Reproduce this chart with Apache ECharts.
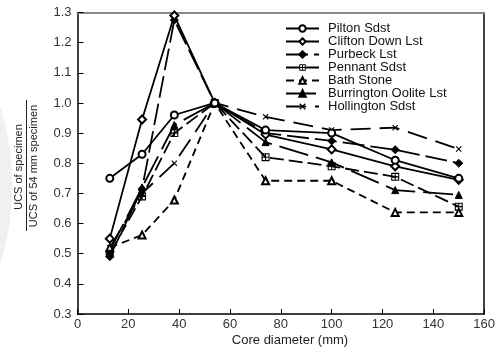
<!DOCTYPE html>
<html>
<head>
<meta charset="utf-8">
<script src="https://cdn.jsdelivr.net/npm/echarts@6/dist/echarts.min.js"></script>
<style>
html,body{margin:0;padding:0;background:#fff;}
#chart{width:498px;height:349px;}
</style>
</head>
<body>
<div id="chart"></div>
<script>
// Core diameters (mm)
var diameters = [12.7, 25.4, 38.1, 54, 74, 100, 125, 150];

// Series values: UCS of specimen / UCS of 54 mm specimen
var piltonSdst       = [0.75, 0.83, 0.96, 1.0, 0.91, 0.90, 0.81, 0.75];
var cliftonDownLst   = [0.55, 0.945, 1.29, 1.0, 0.895, 0.846, 0.79, 0.745];
var purbeckLst       = [0.49, 0.715, 1.275, 1.0, 0.90, 0.874, 0.845, 0.80];
var pennantSdst      = [0.50, 0.69, 0.90, 1.0, 0.82, 0.79, 0.755, 0.656];
var bathStone        = [0.52, 0.562, 0.678, 1.0, 0.742, 0.742, 0.637, 0.637];
var burringtonOolite = [0.51, 0.72, 0.927, 1.0, 0.87, 0.803, 0.711, 0.695];
var hollingtonSdst   = [0.52, 0.70, 0.80, 1.0, 0.954, 0.91, 0.918, 0.847];

var seriesNames = ['Pilton Sdst', 'Clifton Down Lst', 'Purbeck Lst', 'Pennant Sdst',
                   'Bath Stone', 'Burrington Oolite Lst', 'Hollington Sdst'];

var xTicks = [0, 20, 40, 60, 80, 100, 120, 140, 160];
var yTicks = [0.3, 0.4, 0.5, 0.6, 0.7, 0.8, 0.9, 1.0, 1.1, 1.2, 1.3];

var symPennant = 'path://M0,0H10V1.4H0Z M0,8.6H10V10H0Z M0,0H1.4V10H0Z M8.6,0H10V10H8.6Z M0,4.3H10V5.7H0Z M4.3,0H5.7V10H4.3Z';
var symCross = 'path://M0,1.3L1.3,0L10,8.7L8.7,10Z M8.7,0L10,1.3L1.3,10L0,8.7Z';

function pairs(vals) {
  return diameters.map(function (d, i) { return [d, vals[i]]; });
}

var styles = [
  { data: piltonSdst, symbol: 'emptyCircle', size: 7, dash: 'solid', bw: 1 },
  { data: cliftonDownLst, symbol: 'emptyDiamond', size: 8, dash: 'solid', bw: 1 },
  { data: purbeckLst, symbol: 'diamond', size: 8, dash: [22, 6], bw: 1 },
  { data: pennantSdst, symbol: symPennant, size: 8, dash: [14, 5], bw: 0 },
  { data: bathStone, symbol: 'emptyTriangle', size: 7, dash: [8, 5], bw: 1 },
  { data: burringtonOolite, symbol: 'triangle', size: 7, dash: [30, 8], bw: 1 },
  { data: hollingtonSdst, symbol: symCross, size: 6, dash: [20, 9], bw: 0 }
];

var series = styles.map(function (s, i) {
  return {
    name: seriesNames[i],
    type: 'line',
    data: pairs(s.data),
    symbol: s.symbol,
    symbolSize: s.size,
    showAllSymbol: true,
    z: 10 - i,
    itemStyle: { color: '#000', borderColor: '#000', borderWidth: s.bw },
    lineStyle: { color: '#000', width: 1.8, type: s.dash },
    emphasis: { disabled: true },
    animation: false
  };
});

var chart = echarts.init(document.getElementById('chart'), null, { renderer: 'canvas' });
var font = 'Liberation Sans, Arial, Helvetica, sans-serif';

chart.setOption({
  backgroundColor: '#fff',
  animation: false,
  textStyle: { fontFamily: font },
  grid: { left: 77.5, right: 11, top: 12.5, bottom: 35, containLabel: false },
  legend: {
    orient: 'vertical',
    left: 285,
    top: 22,
    padding: 0,
    itemWidth: 33,
    itemHeight: 8,
    itemGap: 0,
    data: seriesNames.map(function (n, i) {
      return styles[i].bw === 0 ? { name: n, itemStyle: { borderWidth: 0 } } : { name: n };
    }),
    textStyle: { fontSize: 13, color: '#111', lineHeight: 13, fontFamily: font, padding: [0, 0, 0, 4] },
    inactiveColor: '#000'
  },
  xAxis: [{
    type: 'value', min: 0, max: 160, interval: 20,
    axisLine: { show: true, onZero: false, lineStyle: { color: '#000', width: 1.5 } },
    axisTick: { show: true, inside: true, length: 5, lineStyle: { color: '#000', width: 1 } },
    axisLabel: { fontSize: 13, color: '#333', margin: 4, fontFamily: font,
      formatter: function (v) { return xTicks.indexOf(v) >= 0 ? String(v) : ''; } },
    splitLine: { show: false }
  }, {
    type: 'value', min: 0, max: 160, position: 'top',
    axisLine: { show: true, onZero: false, lineStyle: { color: '#888', width: 2 } },
    axisTick: { show: false }, axisLabel: { show: false }, splitLine: { show: false }
  }],
  yAxis: [{
    type: 'value', min: 0.3, max: 1.3, interval: 0.1,
    axisLine: { show: true, onZero: false, lineStyle: { color: '#000', width: 1.5 } },
    axisTick: { show: true, inside: true, length: 6, lineStyle: { color: '#000', width: 1 } },
    axisLabel: { fontSize: 13, color: '#333', margin: 6, fontFamily: font,
      formatter: function (v) { return v.toFixed(1); } },
    splitLine: { show: false }
  }, {
    type: 'value', min: 0.3, max: 1.3, position: 'right',
    axisLine: { show: true, onZero: false, lineStyle: { color: '#000', width: 1.5 } },
    axisTick: { show: false }, axisLabel: { show: false }, splitLine: { show: false }
  }],
  graphic: [
    { type: 'ellipse', shape: { cx: -42, cy: 185, rx: 54, ry: 125 }, style: { fill: '#f0f0f0' }, z: -10, silent: true },
    { type: 'text', x: 290, y: 340, style: { text: 'Core diameter (mm)', font: '13px ' + font, fill: '#222', align: 'center', verticalAlign: 'middle' } },
    { type: 'text', x: 19, y: 167, rotation: Math.PI / 2, style: { text: 'UCS of specimen', font: '11px ' + font, fill: '#222', align: 'center', verticalAlign: 'middle' } },
    { type: 'line', shape: { x1: 26.5, y1: 100, x2: 26.5, y2: 231 }, style: { stroke: '#222', lineWidth: 1 } },
    { type: 'text', x: 33.5, y: 166, rotation: Math.PI / 2, style: { text: 'UCS of 54 mm specimen', font: '11px ' + font, fill: '#222', align: 'center', verticalAlign: 'middle' } }
  ],
  series: series
});
</script>
</body>
</html>
